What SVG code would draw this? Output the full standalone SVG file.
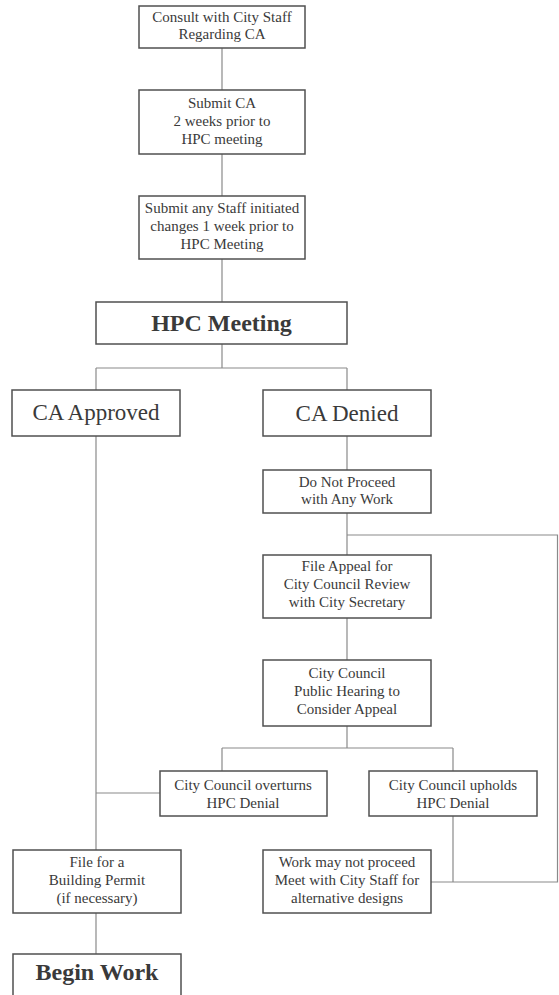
<svg xmlns="http://www.w3.org/2000/svg" width="559" height="995" viewBox="0 0 559 995">
<style>
.bg{fill:#ffffff}
.box{fill:#ffffff;stroke:#505050;stroke-width:1.5}
.ln{fill:none;stroke:#8a8a8a;stroke-width:1.2}
text{font-family:"Liberation Serif","Times New Roman",serif;fill:#3a3a3a;text-anchor:middle}
.s{font-size:15px}
.m{font-size:23px}
.b{font-size:24px;font-weight:bold}
</style>
<rect class="bg" x="0" y="0" width="559" height="995"/>
<g id="connectors">
<path class="ln" d="M222,48V90 M222,154V196 M222,259V302 M222,344V368 M96,368H347 M96,368V390 M347,368V390"/>
<path class="ln" d="M96,436V850 M96,913V954 M96,793H160"/>
<path class="ln" d="M347,436V470 M347,513V555 M347,618V660 M347,726V748 M347,535H557.5V882H431"/>
<path class="ln" d="M222,748H453 M222,748V771 M453,748V771 M453,816V882"/>
</g>
<g id="consult">
<rect class="box" x="139" y="6" width="166" height="42"/>
<text class="s" x="222" y="22">Consult with City Staff</text>
<text class="s" x="222" y="39">Regarding CA</text>
</g>
<g id="submit-ca">
<rect class="box" x="139" y="90" width="166" height="64"/>
<text class="s" x="222" y="108">Submit CA</text>
<text class="s" x="222" y="126">2 weeks prior to</text>
<text class="s" x="222" y="144">HPC meeting</text>
</g>
<g id="submit-staff">
<rect class="box" x="139" y="196" width="166" height="63"/>
<text class="s" x="222" y="213">Submit any Staff initiated</text>
<text class="s" x="222" y="231">changes 1 week prior to</text>
<text class="s" x="222" y="249">HPC Meeting</text>
</g>
<g id="hpc-meeting">
<rect class="box" x="96" y="302" width="251" height="42"/>
<text class="b" x="221.5" y="331">HPC Meeting</text>
</g>
<g id="ca-approved">
<rect class="box" x="12" y="390" width="168" height="46"/>
<text class="m" x="96" y="420">CA Approved</text>
</g>
<g id="ca-denied">
<rect class="box" x="263" y="390" width="168" height="46"/>
<text class="m" x="347" y="421">CA Denied</text>
</g>
<g id="do-not-proceed">
<rect class="box" x="263" y="470" width="168" height="43"/>
<text class="s" x="347" y="487">Do Not Proceed</text>
<text class="s" x="347" y="504">with Any Work</text>
</g>
<g id="file-appeal">
<rect class="box" x="263" y="555" width="168" height="63"/>
<text class="s" x="347" y="571">File Appeal for</text>
<text class="s" x="347" y="589">City Council Review</text>
<text class="s" x="347" y="607">with City Secretary</text>
</g>
<g id="public-hearing">
<rect class="box" x="263" y="660" width="168" height="66"/>
<text class="s" x="347" y="678">City Council</text>
<text class="s" x="347" y="696">Public Hearing to</text>
<text class="s" x="347" y="714">Consider Appeal</text>
</g>
<g id="overturns">
<rect class="box" x="160" y="771" width="167" height="45"/>
<text class="s" x="243" y="790">City Council overturns</text>
<text class="s" x="243" y="808">HPC Denial</text>
</g>
<g id="upholds">
<rect class="box" x="369" y="771" width="168" height="45"/>
<text class="s" x="453" y="790">City Council upholds</text>
<text class="s" x="453" y="808">HPC Denial</text>
</g>
<g id="building-permit">
<rect class="box" x="13" y="850" width="168" height="63"/>
<text class="s" x="97" y="867">File for a</text>
<text class="s" x="97" y="885">Building Permit</text>
<text class="s" x="97" y="903">(if necessary)</text>
</g>
<g id="work-may-not">
<rect class="box" x="263" y="850" width="168" height="63"/>
<text class="s" x="347" y="867">Work may not proceed</text>
<text class="s" x="347" y="885">Meet with City Staff for</text>
<text class="s" x="347" y="903">alternative designs</text>
</g>
<g id="begin-work">
<rect class="box" x="13" y="954" width="168" height="60"/>
<text class="b" x="97" y="980">Begin Work</text>
</g>
</svg>
